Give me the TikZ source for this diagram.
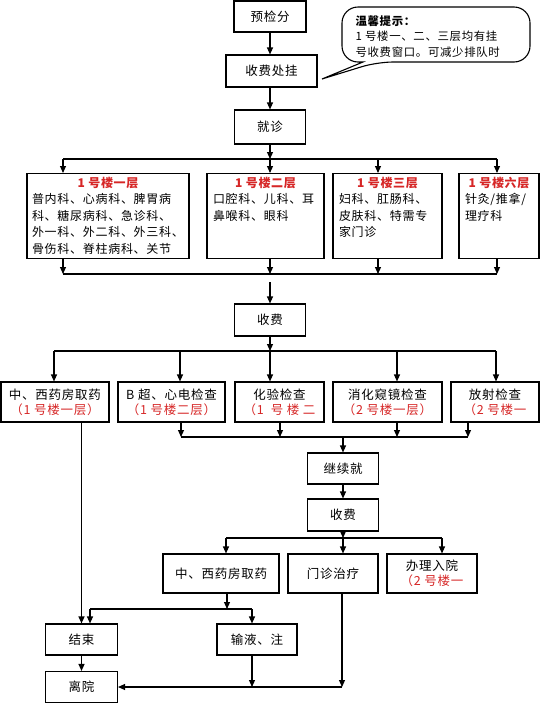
\documentclass[tikz,border=0pt]{standalone}
\usepackage{fontspec}
\setmainfont{Noto Sans CJK SC}[LetterSpace=6]
\usetikzlibrary{arrows.meta}
\definecolor{floorred}{RGB}{214,38,38}
% floor box content: width, red title, lines
\newcommand\floortext[3]{\parbox[c][78pt][t]{#1}{\fontsize{12}{16.5}\selectfont
  \centering\textcolor{floorred}{\bfseries #2}\par\raggedright #3}}

\begin{document}
\begin{tikzpicture}[x=1pt,y=-1pt,line width=1.1pt,
  box/.style={draw,inner sep=0pt,minimum height=32pt,align=center,
    font=\fontsize{12.5}{15}\selectfont},
  floor/.style={draw,anchor=north,inner xsep=6pt,inner ysep=3pt,minimum height=85pt},
  arr/.style={-{Triangle[length=7pt,width=6pt]}}]
  \useasboundingbox (0,0) rectangle (541,718);

  % registration
  \node[box,minimum width=72pt,minimum height=31pt] (pre) at (270,16.5) {预检分};
  \node[box,minimum width=91pt] (reg) at (271.5,71) {收费处挂};
  \node[box,minimum width=71pt,minimum height=34pt] (visit) at (270,127) {就诊};
  \draw[arr] (pre) -- (pre |- reg.north);
  \draw[arr] (visit |- reg.south) -- (visit);

  % tip bubble
  \coordinate (tipend) at (322,79);
  \node[anchor=north west,align=left,inner sep=0pt,
    font=\fontsize{11.4}{15.5}\selectfont] (tip) at (355,15)
    {\textbf{温馨提示：}\\1 号楼一、二、三层均有挂\\号收费窗口。可减少排队时};
  \draw[rounded corners=16pt] (363,62) -- (342,62) -- (342,7) -- (530,7)
    -- (530,62) -- (377,62) [sharp corners] -- (tipend) -- cycle;

  % floors
  \node[floor,minimum width=162pt,inner xsep=5pt] (f1) at (108,173) {\floortext{152pt}{1 号楼一层}
    {普内科、心病科、脾胃病\\科、糖尿病科、急诊科、\\外一科、外二科、外三科、\\骨伤科、脊柱病科、关节}};
  \node[floor,minimum width=117pt] (f2) at (265.5,173) {\floortext{105pt}{1 号楼二层}
    {口腔科、儿科、耳\\鼻喉科、眼科}};
  \node[floor,minimum width=109pt] (f3) at (387.5,173) {\floortext{97pt}{1 号楼三层}
    {妇科、肛肠科、\\皮肤科、特需专\\家门诊}};
  \node[floor,minimum width=80pt] (f6) at (499,173) {\floortext{68pt}{1 号楼六层}
    {针灸/推拿/\\理疗科}};
  \draw[arr] (visit) -- (270,159);
  \draw (63,159) -- (497,159);
  \foreach \bx/\fl in {63/f1,270/f2,378/f3,497/f6} {
    \draw[arr] (\bx,159) -- (\bx,159 |- \fl.north);
    \draw[arr] (\fl.south -| \bx,0) -- (\bx,274);
  }
  \draw (63,274) -- (497,274);

  % payment and examinations
  \node[box,minimum width=71pt] (pay) at (270,320) {收费};
  \coordinate (gap) at (270,282);
  \draw[arr] (gap) -- (pay);
  \node[box,minimum width=108pt,minimum height=40pt] (e1) at (55,402)
    {中、西药房取药\\\textcolor{floorred}{（1 号楼一层）}};
  \node[box,minimum width=107pt,minimum height=40pt] (e2) at (171.5,402)
    {B 超、心电检查\\\textcolor{floorred}{（1 号楼二层）}};
  \node[box,minimum width=89pt,minimum height=40pt] (e3) at (279.5,402)
    {化验检查\\\textcolor{floorred}{（1\ \ 号 楼 二}};
  \node[box,minimum width=109pt,minimum height=40pt] (e4) at (387.5,402)
    {消化窥镜检查\\\textcolor{floorred}{（2 号楼一层）}};
  \node[box,minimum width=88pt,minimum height=40pt] (e5) at (495,402)
    {放射检查\\\textcolor{floorred}{（2 号楼一}};
  \draw[arr] (pay) -- (270,351);
  \draw (54,351) -- (496,351);
  \foreach \bx/\ex in {54/e1,180/e2,270/e3,397/e4,496/e5}
    \draw[arr] (\bx,351) -- (\bx,351 |- \ex.north);
  \foreach \bx/\ex in {181/e2,280/e3,397/e4,468/e5}
    \draw[arr] (\ex.south -| \bx,0) -- (\bx,437);
  \draw (181,437) -- (468,437);

  % second visit
  \node[box,minimum width=71pt,minimum height=31pt] (cont) at (343,468.5) {继续就};
  \node[box,minimum width=71pt] (pay2) at (343,515) {收费};
  \draw[arr] (343,437) -- (cont);
  \draw[arr] (cont) -- (pay2);
  \node[box,minimum width=116pt,minimum height=39pt] (t1) at (221,573.5) {中、西药房取药};
  \node[box,minimum width=90pt,minimum height=39pt] (t2) at (333,573.5) {门诊治疗};
  \node[box,minimum width=90pt,minimum height=39pt] (t3) at (432,573.5)
    {办理入院\\\textcolor{floorred}{（2 号楼一}};
  \draw[arr] (pay2) -- (343,538);
  \draw (226,538) -- (442,538);
  \foreach \bx/\tr in {226/t1,343/t2,442/t3}
    \draw[arr] (\bx,538) -- (\bx,538 |- \tr.north);

  % leaving
  \node[box,minimum width=72pt,minimum height=31pt] (end) at (81.5,639.5) {结束};
  \node[box,minimum width=80pt,minimum height=31pt] (inf) at (257,639.5) {输液、注};
  \node[box,minimum width=72pt,minimum height=31pt] (leave) at (81.5,687) {离院};
  \draw[arr] (t1.south -| 227,0) -- (227,609);
  \draw (90,609) -- (252,609);
  \draw[arr] (90,609) -- (90,609 |- end.north);
  \draw[arr] (252,609) -- (252,609 |- inf.north);
  \draw[arr] (e1.south -| end) -- (end);
  \draw[arr] (end) -- (leave);
  \draw[arr] (inf.south -| 252,0) -- (252,687);
  \draw[arr] (t2.south -| 342,0) -- (342,687);
  \draw[arr] (342,687) -- (leave);
\end{tikzpicture}
\end{document}
